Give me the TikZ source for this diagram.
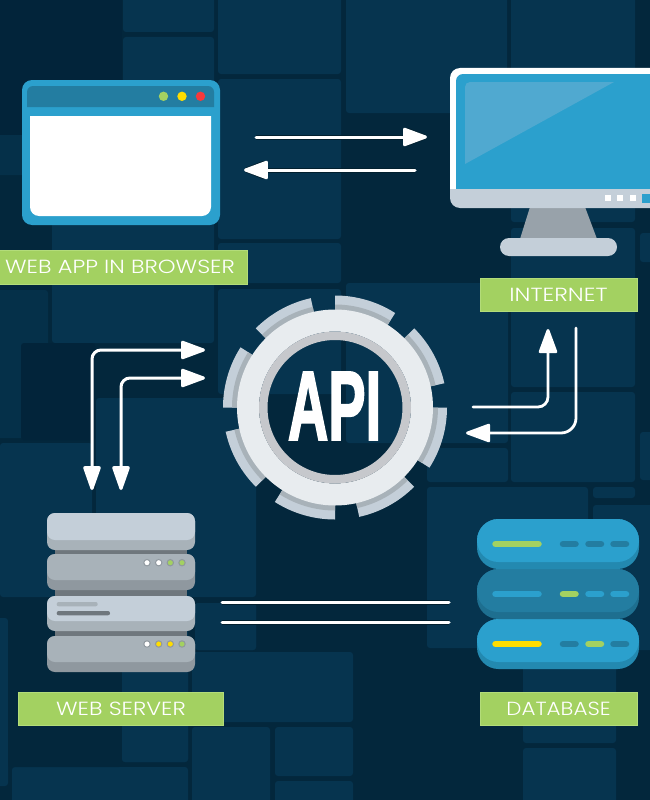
\documentclass[tikz,border=0pt]{standalone}
\usepackage{fontspec}
\usepackage{graphicx}
\setmainfont{Poppins Light}
\newfontfamily\apifont{Liberation Sans Bold}[FakeBold=2.5]
\usetikzlibrary{arrows.meta}
\definecolor{ground}{HTML}{03273C}
\definecolor{deep}{HTML}{02243A}
\definecolor{halo}{HTML}{02202F}
\definecolor{tilecol}{HTML}{06344F}
\definecolor{tilesoft}{HTML}{053049}
\definecolor{sky}{HTML}{2BA0CD}
\definecolor{skydark}{HTML}{237DA1}
\definecolor{skydeep}{HTML}{1E6F90}
\definecolor{skylow}{HTML}{2389B0}
\definecolor{gloss}{HTML}{50A9D0}
\definecolor{lime}{HTML}{A3D161}
\definecolor{limeedge}{HTML}{B3DC7A}
\definecolor{sun}{HTML}{FFDD00}
\definecolor{ember}{HTML}{F5393B}
\definecolor{steel}{HTML}{C4CFD9}
\definecolor{steellow}{HTML}{A8B2B9}
\definecolor{slate}{HTML}{8F989F}
\definecolor{slatedark}{HTML}{6F777D}
\definecolor{stand}{HTML}{98A2AA}
\definecolor{ringface}{HTML}{E8ECEF}
\definecolor{ringline}{HTML}{C6C8CC}
\newcommand{\captiontext}[2]{\raisebox{-1pt}{\scalebox{#1}[1]{#2}}}
\tikzset{
  tile/.style={fill=tilecol,rounded corners=3},
  softtile/.style={fill=tilesoft,rounded corners=3},
  banner/.style={fill=lime,draw=limeedge,line width=0.7pt,text=white,inner sep=0pt,
    font=\fontsize{19}{19}\selectfont},
  wire/.style={draw=white,line width=3pt,line cap=round},
  thinwire/.style={draw=white,line width=2.8pt,line cap=round},
  halowire/.style={wire,preaction={draw=halo,line width=5pt}},
  headend/.style={-{Triangle[length=27pt,width=19pt,round]}},
  headboth/.style={{Triangle[length=27pt,width=18pt,round]}-{Triangle[length=27pt,width=19pt,round]}},
  lamp/.style={draw=slate,line width=1pt},
  pill/.style={line cap=round,line width=6.5pt},
}
% one stacked server unit: top, lip, bottom, face colour, lip colour
\newcommand{\serverunit}[5]{%
  \fill[#5,rounded corners=8] (47,#1) rectangle (195,#3);
  \fill[#4,rounded corners=8] (47,#1) rectangle (195,#2);
}
% one database disc: top, lip, bottom, face colour, lip colour
\newcommand{\dbdisc}[5]{%
  \fill[#5,rounded corners=21.5] (477,#1) rectangle (639,#3);
  \fill[#4,rounded corners=21.5] (477,#1) rectangle (639,#2);
}
\begin{document}
\begin{tikzpicture}[x=1pt,y=-1pt]
\useasboundingbox (0,0) rectangle (650,800);
\clip (0,0) rectangle (650,800);
\fill[ground] (0,0) rectangle (650,800);

% background tiling
\foreach \xa/\ya/\xb/\yb in {
  123/-5/214/32, 123/37/214/130, 218/-5/341/74, 218/79/341/239, 218/243/341/283,
  346/-5/507/113, 511/-5/635/222, 511/228/635/387, 511/392/635/482,
  52/170/214/343, 218/289/341/394, 346/283/508/443, 96/398/256/597,
  0/443/92/597, 427/448/508/482, 427/487/588/648, 593/487/635/498, 593/505/660/650,
  122/600/188/762, 195/603/256/650, 192/652/353/722, 192/727/270/810,
  275/727/353/776, 275/781/353/810, 12/767/188/810, -5/618/8/786,
  523/650/616/743, 523/748/616/810, 640/233/660/262, 640/432/660/480}
  {\fill[tile] (\xa,\ya) rectangle (\xb,\yb);}
\fill[softtile] (-5,135) rectangle (50,175);
\fill[softtile] (-5,290) rectangle (48,438);
\fill[deep,rounded corners=3] (21,343) rectangle (95,440);
\fill[ground,rounded corners=3] (8,598) rectangle (122,767);
\fill[tile,rounded corners=3] (122,650) rectangle (188,762);
\fill[tile,rounded corners=3] (195,603) rectangle (256,650);
\fill[deep] (-5,-5) rectangle (122,135);

% browser window
\fill[sky,rounded corners=10] (22,80) rectangle (220,225);
\fill[skydark] (27,107) [rounded corners=6] -- (27,86) -- (214,86) [sharp corners] -- (214,107) -- cycle;
\fill[white] (30,116) [rounded corners=9] -- (30,216) -- (211,216) [sharp corners] -- (211,116) -- cycle;
\fill[lime] (163.5,96.3) circle[radius=4.7];
\fill[sun] (182,96.3) circle[radius=4.7];
\fill[ember] (200.5,96.3) circle[radius=4.7];

% monitor
\fill[stand] (530,207) -- (585,207) -- (597,239) -- (520,239) -- cycle;
\fill[steel,rounded corners=9] (500,238) rectangle (617,256);
\fill[white,rounded corners=10] (450,68) rectangle (690,200);
\fill[sky] (456,189) [rounded corners=7] -- (456,74) -- (690,74) [sharp corners] -- (690,189) -- cycle;
\fill[gloss] (465,164) [rounded corners=5] -- (465,82) [sharp corners] -- (614,82) -- cycle;
\fill[steel] (450,189) [rounded corners=10] -- (450,208) -- (690,208) [sharp corners] -- (690,189) -- cycle;
\foreach \sx in {607.5,620,633} \fill[white] (\sx-3,195) rectangle (\sx+3,201);
\fill[sky] (642,194) rectangle (655,203);

% gear with its eight teeth; the centre stays open
\begin{scope}[shift={(335,407.5)},y=1pt]
  \foreach \a in {90,45,0,-45,-90,-135,-180,-225}{
    \pgfmathsetmacro{\b}{\a-32.5}
    \fill[steel] (\a:112) arc[start angle=\a,end angle=\b,radius=112] -- (\b:96) arc[start angle=\b,end angle=\a,radius=96] -- cycle;
    \fill[steellow] (\a:103) arc[start angle=\a,end angle=\b,radius=103] -- (\b:96) arc[start angle=\b,end angle=\a,radius=96] -- cycle;
  }
  \fill[ringface,even odd rule] (0,0) circle[radius=98] (0,0) circle[radius=76];
  \fill[ringline,even odd rule] (0,0) circle[radius=76] (0,0) circle[radius=67.5];
\end{scope}
\node[text=white,inner sep=0pt,xscale=0.57,transform shape] (api) at (334.5,406)
  {\fontsize{98}{98}\selectfont\apifont API};

% server rack
\fill[slatedark] (55,548) rectangle (187,638);
\serverunit{513}{540}{550}{steel}{steellow}
\serverunit{554}{580}{590}{steellow}{slate}
\serverunit{596}{621}{631}{steel}{steellow}
\serverunit{636}{662}{672}{steellow}{slate}
\foreach \lx/\lc in {147/white,158.7/white,170.3/lime,182/lime}
  \filldraw[lamp,fill=\lc] (\lx,562.7) circle[radius=3.2];
\foreach \lx/\lc in {147/white,158.7/sun,170.3/sun,182/lime}
  \filldraw[lamp,fill=\lc] (\lx,644) circle[radius=3.2];
\fill[steellow,rounded corners=2] (56.7,602) rectangle (97.7,606.3);
\fill[slatedark,rounded corners=2] (56.7,611) rectangle (110,615.3);

% database stack
\dbdisc{619}{662}{669}{sky}{skylow}
\dbdisc{569}{612}{619}{skydark}{skydeep}
\dbdisc{519}{562}{569}{sky}{skylow}
\draw[pill,lime] (495.5,544) -- (538.5,544);
\foreach \pa/\pb in {563/575.5,588.5/601,613.5/626} \draw[pill,skydark] (\pa,544) -- (\pb,544);
\draw[pill,sky] (495.5,594) -- (538.5,594);
\draw[pill,lime] (563,594) -- (575.5,594);
\foreach \pa/\pb in {588.5/601,613.5/626} \draw[pill,sky] (\pa,594) -- (\pb,594);
\draw[pill,sun] (495.5,644) -- (538.5,644);
\draw[pill,skydark] (563,644) -- (575.5,644);
\draw[pill,lime] (588.5,644) -- (601,644);
\draw[pill,skydark] (613.5,644) -- (626,644);

% captions
\node[banner,minimum width=254pt,minimum height=34pt] (browser) at (120,267) {\captiontext{1.19}{WEB APP IN BROWSER}};
\node[banner,minimum width=157pt,minimum height=33pt] (internet) at (558.5,294.5) {\captiontext{1.22}{INTERNET}};
\node[banner,minimum width=205pt,minimum height=33pt] (server) at (121,708.5) {\captiontext{1.19}{WEB SERVER}};
\node[banner,minimum width=157pt,minimum height=33pt] (database) at (558.5,708.5) {\captiontext{1.13}{DATABASE}};

% connector ends
\coordinate (browserOut) at (256,137);  \coordinate (monitorIn) at (427,137);
\coordinate (monitorOut) at (415,170);  \coordinate (browserIn) at (244,170);
\coordinate (gearWestA) at (205,350);   \coordinate (rackNorthA) at (92,490);
\coordinate (gearWestB) at (205,378);   \coordinate (rackNorthB) at (121,490);
\coordinate (gearEastOut) at (473,407); \coordinate (monitorSouthIn) at (548,329);
\coordinate (monitorSouthOut) at (576,328); \coordinate (gearEastIn) at (466,433);
\coordinate (rackEastA) at (222,602);   \coordinate (stackWestA) at (449,602);
\coordinate (rackEastB) at (222,622);   \coordinate (stackWestB) at (449,622);

% connectors
\draw[halowire,headend] (browserOut) -- (monitorIn);
\draw[halowire,headend] (monitorOut) -- (browserIn);
\draw[wire,headboth,rounded corners=9] (rackNorthA) |- (gearWestA);
\draw[wire,headboth,rounded corners=9] (rackNorthB) |- (gearWestB);
\draw[thinwire,headend,rounded corners=10] (gearEastOut) -| (monitorSouthIn);
\draw[thinwire,headend,rounded corners=15] (monitorSouthOut) |- (gearEastIn);
\draw[halowire] (rackEastA) -- (stackWestA);
\draw[halowire] (rackEastB) -- (stackWestB);
\end{tikzpicture}
\end{document}
